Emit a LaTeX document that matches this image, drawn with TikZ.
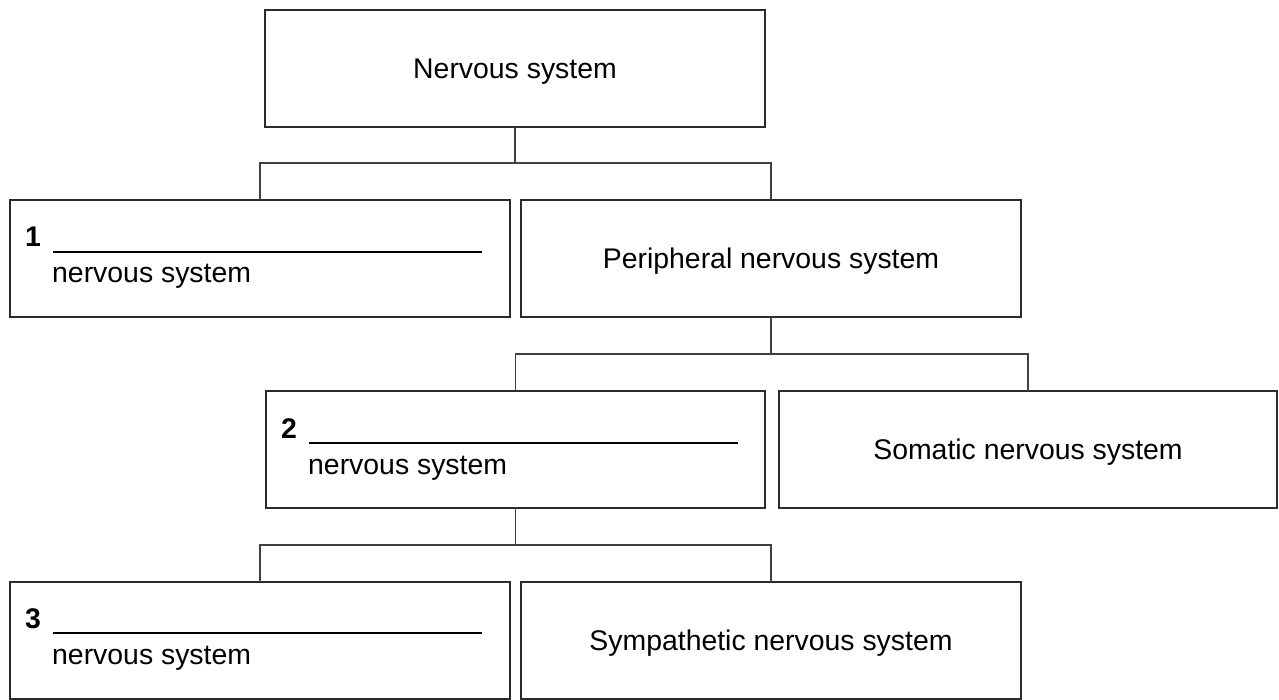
\documentclass[tikz,border=0pt]{standalone}
\usepackage{fontspec}
\setmainfont{Liberation Sans}
\usetikzlibrary{calc}
\definecolor{boxcol}{HTML}{2B2B2B}
\definecolor{linkcol}{HTML}{404040}
\begin{document}
\begin{tikzpicture}[x=1pt,y=-1pt,
  box/.style={draw=boxcol, line width=2pt, minimum width=500pt, minimum height=117pt, inner sep=0pt, outer sep=0pt, text height=20.5pt, text depth=0pt, font=\fontsize{28.4}{34}\selectfont},
  link/.style={draw=linkcol, line width=1.1pt},
  num/.style={anchor=base west, inner sep=0pt, font=\fontsize{28.4}{34}\selectfont\bfseries},
  lbl/.style={anchor=base west, inner sep=0pt, font=\fontsize{28.4}{34}\selectfont},
  blank/.style={draw=black, line width=1.3pt}]
\useasboundingbox (0,0) rectangle (1279,700);
\fill[white] (0,0) rectangle (1279,700);

% boxes
\node[box] (n) at (515,68.5) {Nervous system};
\node[box] (b1) at (260,258.5) {};
\node[box] (p) at (771,258.5) {Peripheral nervous system};
\node[box, minimum width=499pt] (b2) at (515.5,449.5) {};
\node[box, minimum width=498pt] (s) at (1028,449.5) {Somatic nervous system};
\node[box] (b3) at (260,640.5) {};
\node[box] (sy) at (771,640.5) {Sympathetic nervous system};

% fill-in labels
\node[num] (b1n) at ($(b1.north west)+(15,47)$) {1};
\coordinate (b1a) at ($(b1.north west)+(43,52)$);
\coordinate (b1b) at ($(b1.north west)+(472,52)$);
\draw[blank] (b1a) -- (b1b);
\node[lbl] (b1t) at ($(b1.north west)+(42,83)$) {nervous system};

\node[num] (b2n) at ($(b2.north west)+(15,47)$) {2};
\coordinate (b2a) at ($(b2.north west)+(43,52)$);
\coordinate (b2b) at ($(b2.north west)+(472,52)$);
\draw[blank] (b2a) -- (b2b);
\node[lbl] (b2t) at ($(b2.north west)+(42,83)$) {nervous system};

\node[num] (b3n) at ($(b3.north west)+(15,46)$) {3};
\coordinate (b3a) at ($(b3.north west)+(43,51)$);
\coordinate (b3b) at ($(b3.north west)+(472,51)$);
\draw[blank] (b3a) -- (b3b);
\node[lbl] (b3t) at ($(b3.north west)+(42,82)$) {nervous system};

% connectors
\draw[link] (n.south) -- ++(0,36) coordinate (j1);
\draw[link] (j1) -| (b1.north);
\draw[link] (j1) -| (p.north);

\draw[link] (p.south) -- ++(0,37) coordinate (j2);
\draw[link] (j2) -| (b2.north);
\draw[link] (j2) -| (s.north);

\draw[link] (b2.south) -- ++(0,37) coordinate (j3);
\draw[link] (j3) -| (b3.north);
\draw[link] (j3) -| (sy.north);
\end{tikzpicture}
\end{document}
